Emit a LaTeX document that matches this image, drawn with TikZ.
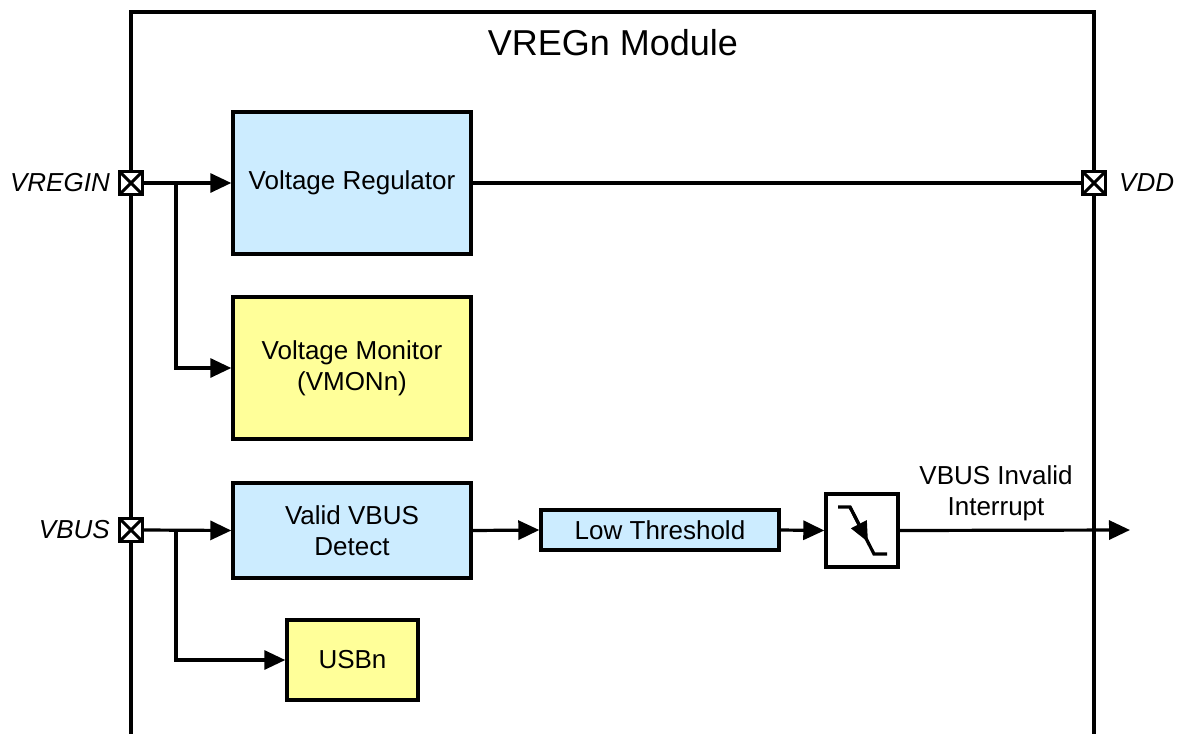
\documentclass[tikz,border=0pt]{standalone}
\usepackage{fontspec}
\setmainfont{Liberation Sans}
\usetikzlibrary{arrows.meta}
\definecolor{blk}{HTML}{CCECFF}
\definecolor{ylw}{HTML}{FFFF99}
\tikzset{
  x=1pt, y=-1pt,
  ln/.style={line width=3.2pt},
  arr/.style={ln,-{Triangle[length=21pt,width=19pt]}},
  box/.style={draw,line width=3.4pt,inner sep=0pt,align=center,font=\fontsize{26}{31}\selectfont},
  bluebox/.style={box,fill=blk},
  yelbox/.style={box,fill=ylw},
  pin/.style={draw,fill=white,line width=3.4pt,minimum width=23pt,minimum height=23pt,inner sep=0pt,
    path picture={\draw[line width=3pt] (path picture bounding box.north west) -- (path picture bounding box.south east)
      (path picture bounding box.north east) -- (path picture bounding box.south west);}},
  lbl/.style={font=\fontsize{26}{31}\selectfont\itshape,inner sep=0pt},
  txt/.style={font=\fontsize{26}{31}\selectfont,align=center,inner sep=0pt}
}
\begin{document}
\begin{tikzpicture}
\useasboundingbox (0,0) rectangle (1179,734);
% module outline
\draw[ln] (131,740) -- (131,12) -- (1094,12) -- (1094,740);
\node[font=\fontsize{36}{40}\selectfont,inner sep=0pt] (title) at (613,43) {VREGn Module};
% pins
\node[pin] (pvregin) at (131,183) {};
\node[pin] (pvdd) at (1094,183) {};
\node[pin] (pvbus) at (131,530) {};
\node[lbl,anchor=east] (lvregin) at (110,183) {VREGIN};
\node[lbl,anchor=west] (lvdd) at (1119,183) {VDD};
\node[lbl,anchor=east] (lvbus) at (110,530) {VBUS};
% blocks
\node[bluebox,minimum width=238pt,minimum height=142pt] (vr) at (352,183) {Voltage Regulator};
\node[yelbox,minimum width=238pt,minimum height=142pt] (vm) at (352,368) {Voltage Monitor\\(VMONn)};
\node[bluebox,minimum width=238pt,minimum height=95pt] (vvd) at (352,530.5) {Valid VBUS\\Detect};
\node[bluebox,minimum width=238pt,minimum height=40pt] (lt) at (660,530) {Low Threshold};
\node[box,fill=white,minimum width=72pt,minimum height=73pt] (ed) at (862,530.5) {};
\node[yelbox,minimum width=131pt,minimum height=80pt] (usb) at (352.5,660) {USBn};
% edge symbol
\draw[ln,line cap=butt] (838,507) -- (850,507) -- (874,554) -- (887,554);
\draw[ln,-{Triangle[length=20pt,width=17pt]}] (850,507) -- (868,542);
% connectors
\coordinate (b1) at (176,183);
\coordinate (b2) at (176,530);
\coordinate (out) at (1130,530);
\draw[arr] (pvregin.east) -- (vr.west);
\draw[arr] (b1) |- (vm.west);
\draw[ln] (vr.east) -- (pvdd.west);
\draw[arr] (pvbus.east) -- (vvd.west);
\draw[arr] (b2) |- (usb.west);
\draw[arr] (vvd.east) -- (lt.west);
\draw[arr] (lt.east) -- (ed.west);
\draw[arr] (ed.east) -- (out);
\node[txt,anchor=south] (vbi) at (996,521) {VBUS Invalid\\Interrupt};
\end{tikzpicture}
\end{document}
